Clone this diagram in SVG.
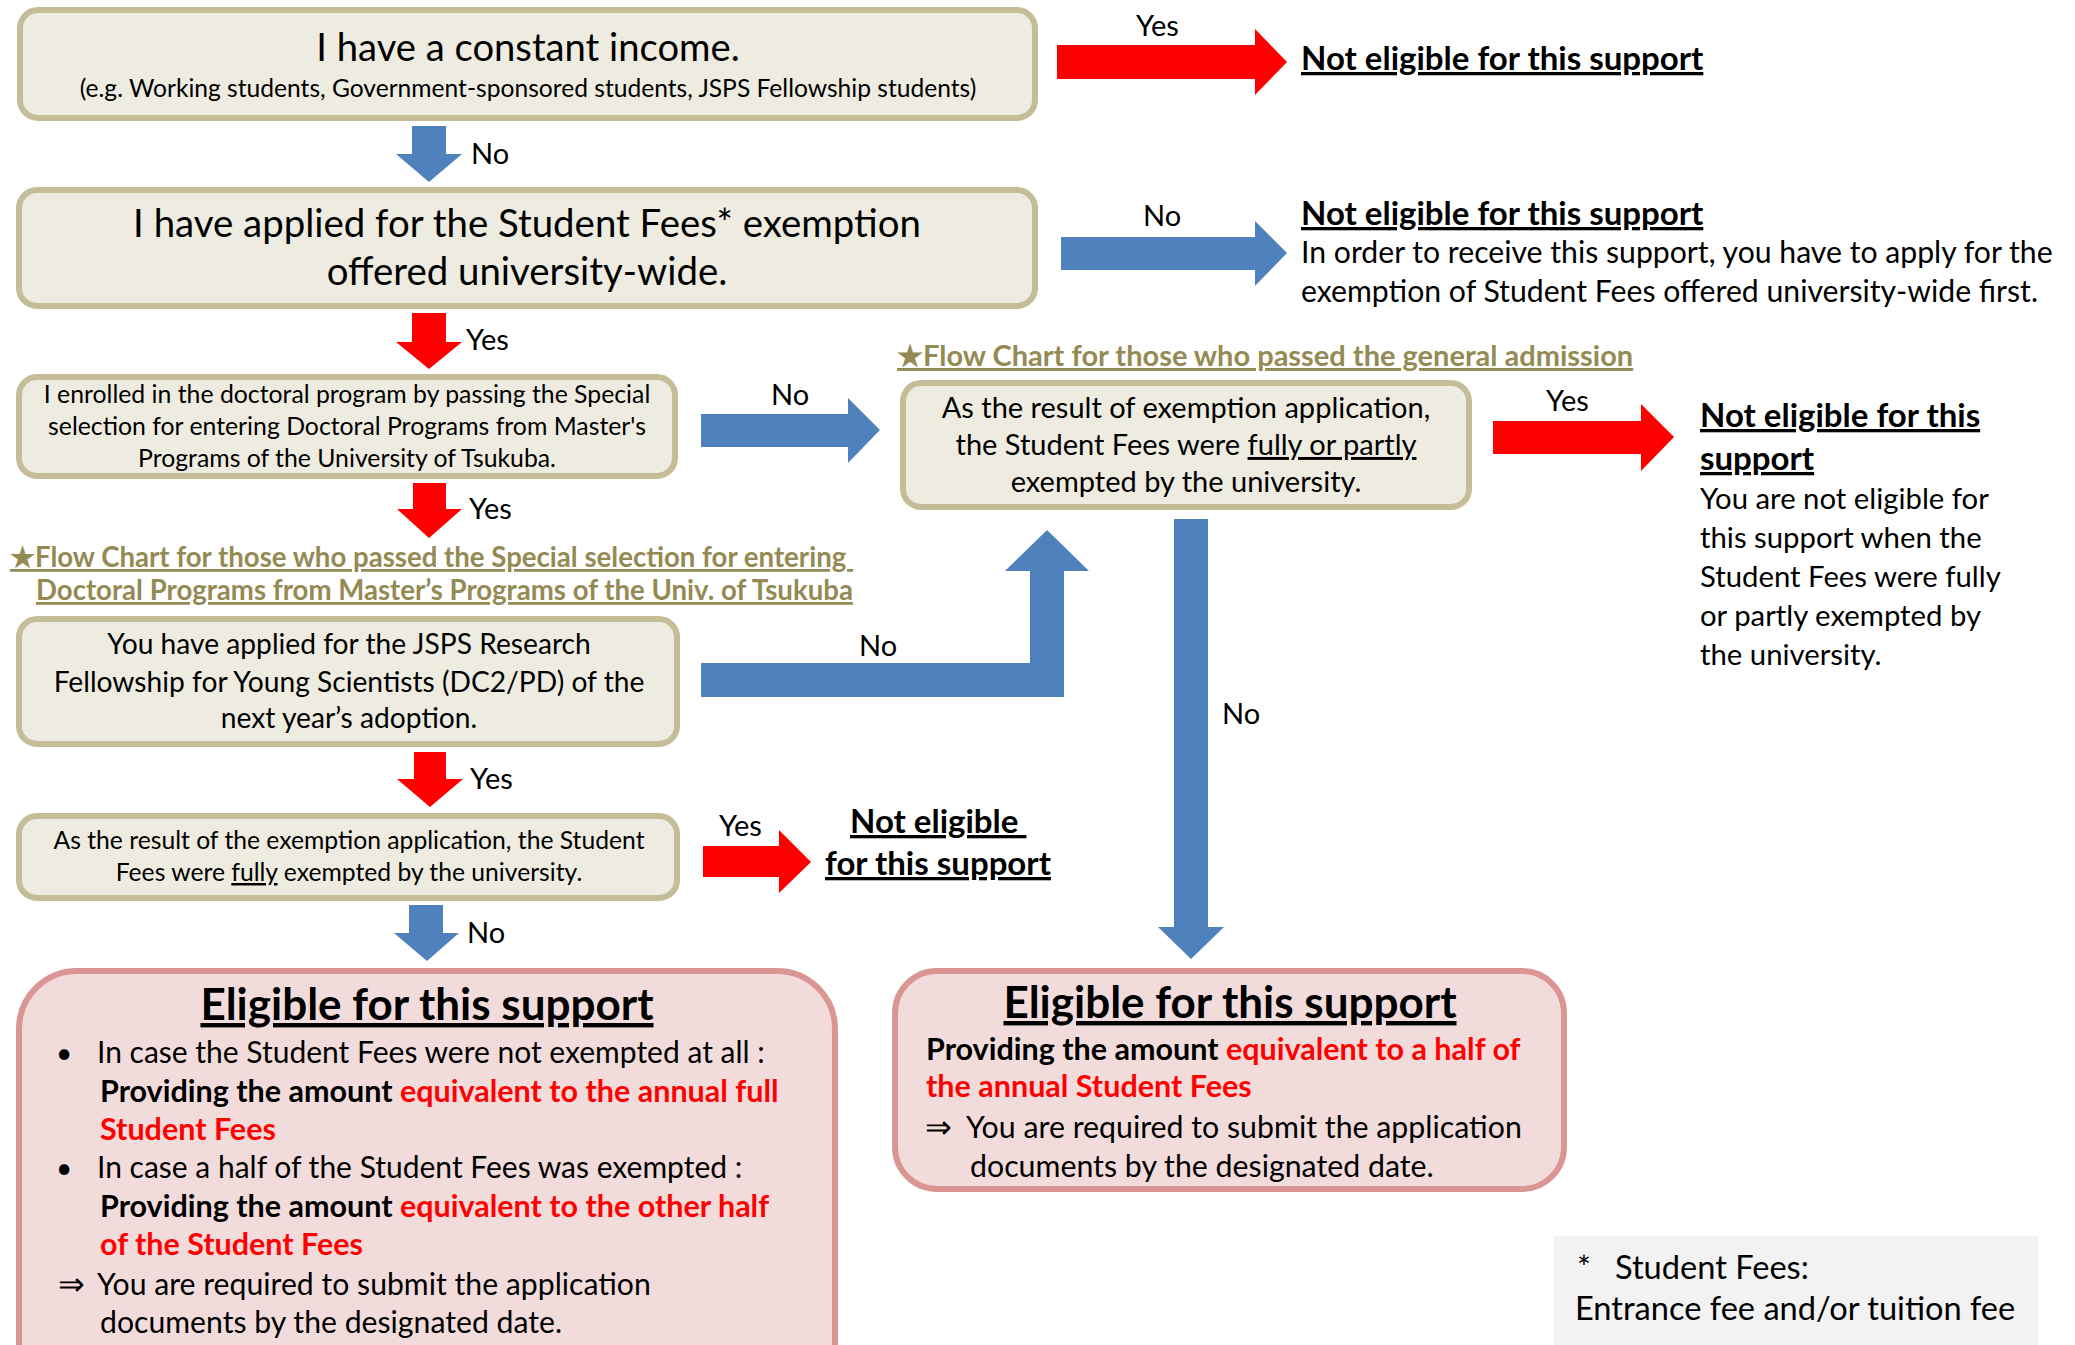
<svg xmlns="http://www.w3.org/2000/svg" width="2075" height="1345" viewBox="0 0 2075 1345">
<style>
.box{fill:#EEECE1;stroke:#C4BD97;stroke-width:6}
.elig{fill:#F2DCDB;stroke:#D99694;stroke-width:6}
.foot{fill:#F2F2F2}
text{font-family:Lato,"Liberation Sans",sans-serif;fill:#000}
.c{text-anchor:middle}
.b{font-weight:bold}
.r{fill:#FF0000}
.u{text-decoration:underline}
.ol{fill:#948A54;font-weight:bold;text-decoration:underline}
.blue{fill:#4F81BD}
.red{fill:#FF0000}
.lbl{font-size:29px}
</style>

<g id="connectors">
  <!-- box1 -> box2 (No) -->
  <polygon class="blue" points="412,126 446,126 446,154 462,154 429,182 396,154 412,154"/>
  <!-- box1 -> not eligible (Yes) -->
  <polygon class="red" points="1057,45 1255,45 1255,29 1287,62 1255,95 1255,79 1057,79"/>
  <!-- box2 -> not eligible (No) -->
  <polygon class="blue" points="1061,237 1255,237 1255,221 1287,253 1255,286 1255,270 1061,270"/>
  <!-- box2 -> box3 (Yes) -->
  <polygon class="red" points="412,313 446,313 446,342 462,342 429,369 396,342 412,342"/>
  <!-- box3 -> box4 (No) -->
  <polygon class="blue" points="701,414 848,414 848,398 880,430 848,463 848,447 701,447"/>
  <!-- box3 -> box5 (Yes) -->
  <polygon class="red" points="413,483 446,483 446,509 462,509 429,538 397,509 413,509"/>
  <!-- box4 -> not eligible (Yes) -->
  <polygon class="red" points="1493,421 1641,421 1641,404 1674,437 1641,471 1641,454 1493,454"/>
  <!-- box5 -> box4 (No) L-shaped -->
  <polygon class="blue" points="701,663 1030,663 1030,571 1005,571 1047,530 1089,571 1064,571 1064,697 701,697"/>
  <!-- box4 -> eligible right (No) -->
  <polygon class="blue" points="1174,519 1208,519 1208,927 1224,927 1191,959 1158,927 1174,927"/>
  <!-- box5 -> box6 (Yes) -->
  <polygon class="red" points="414,752 446,752 446,779 463,779 430,807 397,779 414,779"/>
  <!-- box6 -> not eligible (Yes) -->
  <polygon class="red" points="703,846 779,846 779,830 811,862 779,893 779,877 703,877"/>
  <!-- box6 -> eligible left (No) -->
  <polygon class="blue" points="409,905 443,905 443,933 459,933 427,961 394,933 409,933"/>

  <text class="lbl" x="1136" y="36">Yes</text>
  <text class="lbl" x="471" y="164">No</text>
  <text class="lbl" x="1143" y="226">No</text>
  <text class="lbl" x="466" y="350">Yes</text>
  <text class="lbl" x="771" y="405">No</text>
  <text class="lbl" x="1546" y="411">Yes</text>
  <text class="lbl" x="469" y="519">Yes</text>
  <text class="lbl" x="859" y="656">No</text>
  <text class="lbl" x="1222" y="724">No</text>
  <text class="lbl" x="470" y="789">Yes</text>
  <text class="lbl" x="719" y="836">Yes</text>
  <text class="lbl" x="467" y="943">No</text>
</g>

<g id="q-income">
  <rect class="box" x="20" y="10" width="1015" height="108" rx="18"/>
  <text class="c" x="528" y="61" font-size="38.2">I have a constant income.</text>
  <text class="c" x="528" y="97" font-size="24.6">(e.g. Working students, Government-sponsored students, JSPS Fellowship students)</text>
</g>

<g id="q-applied">
  <rect class="box" x="19" y="190" width="1016" height="116" rx="18"/>
  <text class="c" x="527" y="237" font-size="38.4">I have applied for the Student Fees* exemption</text>
  <text class="c" x="527" y="285" font-size="38.4">offered university-wide.</text>
</g>

<g id="ne-1">
  <text class="b u" x="1301" y="70" font-size="33">Not eligible for this support</text>
</g>

<g id="ne-2">
  <text class="b u" x="1301" y="225" font-size="33">Not eligible for this support</text>
  <text x="1301" y="263" font-size="30.2">In order to receive this support, you have to apply for the</text>
  <text x="1301" y="302" font-size="30.2">exemption of Student Fees offered university-wide first.</text>
</g>

<g id="q-special">
  <rect class="box" x="19" y="377" width="656" height="99" rx="18"/>
  <text class="c" x="347" y="403" font-size="24.8">I enrolled in the doctoral program by passing the Special</text>
  <text class="c" x="347" y="435" font-size="24.8">selection for entering Doctoral Programs from Master's</text>
  <text class="c" x="347" y="467" font-size="24.8">Programs of the University of Tsukuba.</text>
</g>

<g id="hdr-general">
  <text class="ol" x="897" y="366" font-size="29">★Flow Chart for those who passed the general admission</text>
</g>

<g id="q-exempt-general">
  <rect class="box" x="903" y="383" width="566" height="124" rx="18"/>
  <text class="c" x="1186" y="418" font-size="29">As the result of exemption application,</text>
  <text class="c" x="1186" y="455" font-size="29">the Student Fees were <tspan class="u">fully or partly</tspan></text>
  <text class="c" x="1186" y="492" font-size="29">exempted by the university.</text>
</g>

<g id="ne-3">
  <text class="b u" x="1700" y="427" font-size="33">Not eligible for this</text>
  <text class="b u" x="1700" y="470" font-size="33">support</text>
  <text x="1700" y="509" font-size="29.3">You are not eligible for</text>
  <text x="1700" y="548" font-size="29.3">this support when the</text>
  <text x="1700" y="587" font-size="29.3">Student Fees were fully</text>
  <text x="1700" y="626" font-size="29.3">or partly exempted by</text>
  <text x="1700" y="665" font-size="29.3">the university.</text>
</g>

<g id="hdr-special">
  <text class="ol" x="10" y="567" font-size="27.6" xml:space="preserve">★Flow Chart for those who passed the Special selection for entering </text>
  <text class="ol" x="36" y="600" font-size="27.6">Doctoral Programs from Master’s Programs of the Univ. of Tsukuba</text>
</g>

<g id="q-jsps">
  <rect class="box" x="19" y="619" width="658" height="125" rx="18"/>
  <text class="c" x="349" y="654" font-size="28.2">You have applied for the JSPS Research</text>
  <text class="c" x="349" y="692" font-size="28.2">Fellowship for Young Scientists (DC2/PD) of the</text>
  <text class="c" x="349" y="728" font-size="28.2">next year’s adoption.</text>
</g>

<g id="q-fully">
  <rect class="box" x="19" y="816" width="658" height="82" rx="18"/>
  <text class="c" x="349" y="849" font-size="24.7">As the result of the exemption application, the Student</text>
  <text class="c" x="349" y="881" font-size="24.7">Fees were <tspan class="u">fully</tspan> exempted by the university.</text>
</g>

<g id="ne-4">
  <text class="b u" x="850" y="833" font-size="33" xml:space="preserve">Not eligible </text>
  <text class="b u" x="825" y="875" font-size="33">for this support</text>
</g>

<g id="elig-left">
  <rect class="elig" x="19" y="971" width="816" height="440" rx="58"/>
  <text class="b u c" x="427" y="1020" font-size="44">Eligible for this support</text>
  <text x="56" y="1063" font-size="28">•</text>
  <text x="97" y="1063" font-size="30">In case the Student Fees were not exempted at all :</text>
  <text x="100" y="1102" font-size="30.5" class="b">Providing the amount <tspan class="r">equivalent to the annual full</tspan></text>
  <text x="100" y="1140" font-size="30.5" class="b r">Student Fees</text>
  <text x="56" y="1178" font-size="28">•</text>
  <text x="97" y="1178" font-size="30">In case a half of the Student Fees was exempted :</text>
  <text x="100" y="1217" font-size="30.5" class="b">Providing the amount <tspan class="r">equivalent to the other half</tspan></text>
  <text x="100" y="1255" font-size="30.5" class="b r">of the Student Fees</text>
  <text x="58" y="1295" font-size="32">⇒</text>
  <text x="97" y="1295" font-size="30.2">You are required to submit the application</text>
  <text x="100" y="1333" font-size="30.2">documents by the designated date.</text>
</g>

<g id="elig-right">
  <rect class="elig" x="895" y="971" width="669" height="218" rx="42"/>
  <text class="b u c" x="1230" y="1018" font-size="44">Eligible for this support</text>
  <text x="926" y="1060" font-size="30.5" class="b">Providing the amount <tspan class="r">equivalent to a half of</tspan></text>
  <text x="926" y="1097" font-size="30.5" class="b r">the annual Student Fees</text>
  <text x="925" y="1138" font-size="32">⇒</text>
  <text x="966" y="1138" font-size="30.3">You are required to submit the application</text>
  <text x="970" y="1177" font-size="30.3">documents by the designated date.</text>
</g>

<g id="footnote">
  <rect class="foot" x="1554" y="1236" width="484" height="109"/>
  <text x="1577" y="1279" font-size="32.6">*</text>
  <text x="1615" y="1279" font-size="32.6">Student Fees:</text>
  <text x="1575" y="1320" font-size="32.6">Entrance fee and/or tuition fee</text>
</g>
</svg>
